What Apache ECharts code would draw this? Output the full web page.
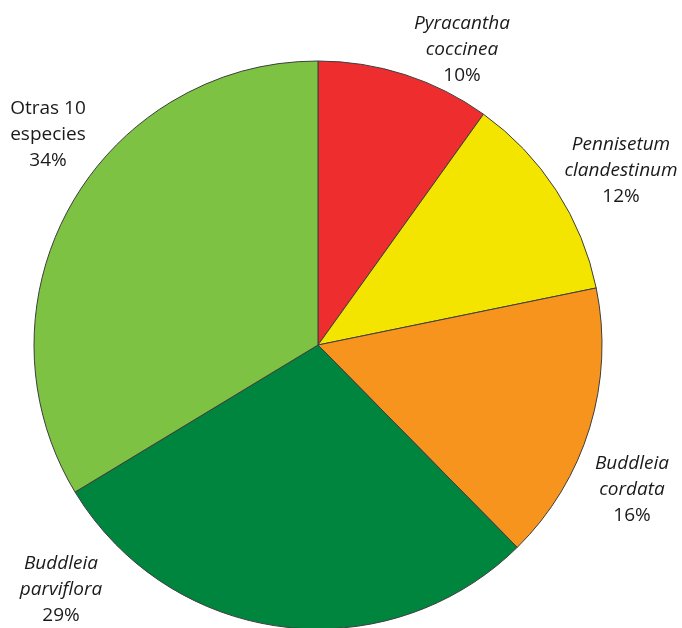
<html lang="es">

<head>
  <meta charset="UTF-8">
  <title>especies</title>
  <style>
    html, body { margin: 0; padding: 0; background: #fff; }
    #pie { width: 682px; height: 628px; }
  </style>
</head>

<body>
  <div id="pie"></div>

  <script src="https://cdn.jsdelivr.net/npm/echarts@6/dist/echarts.min.js"></script>
  <script>
    var names = ['Pyracantha\ncoccinea', 'Pennisetum\nclandestinum', 'Buddleia\ncordata', 'Buddleia\nparviflora', 'Otras 10\nespecies']
    var values = [10, 12, 16, 29, 34]
    var pctLabels = ['10%', '12%', '16%', '29%', '34%']

    var colors = ['#EE2D2F', '#F4E500', '#F7941D', '#00853F', '#7DC242']
    // label centres (px), the original places them by hand
    var labelPos = [[462, 50], [621, 171], [632, 490], [61, 590], [48, 135]]
    var plain = [false, false, false, false, true]

    var data = names.map(function (n, i) {
      return { name: n, value: values[i], itemStyle: { color: colors[i] } }
    })

    var chart = echarts.init(document.getElementById('pie'))
    chart.setOption({
      animation: false,
      textStyle: { fontFamily: 'Open Sans' },
      series: [{
        type: 'pie',
        center: [318, 345],
        radius: 284,
        startAngle: 90,
        clockwise: true,
        data: data,
        itemStyle: { borderColor: '#3d3d3d', borderWidth: 1 },
        labelLine: { show: false },
        label: {
          position: 'outside',
          overflow: 'none',
          formatter: function (p) {
            var st = plain[p.dataIndex] ? 'n' : 'i'
            var lines = p.name.split('\n').map(function (l) { return '{' + st + '|' + l + '}' })
            lines.push('{n|' + pctLabels[p.dataIndex] + '}')
            return lines.join('\n')
          },
          rich: {
            i: { fontFamily: 'Open Sans', fontStyle: 'italic', fontSize: 19, lineHeight: 26, color: '#1a1a1a', align: 'center' },
            n: { fontFamily: 'Open Sans', fontSize: 19, lineHeight: 26, color: '#1a1a1a', align: 'center' }
          }
        },
        labelLayout: function (params) {
          var p = labelPos[params.dataIndex]
          return { x: p[0], y: p[1], align: 'center', verticalAlign: 'middle' }
        },
        emphasis: { disabled: true }
      }]
    })
  </script>

</body>

</html>
